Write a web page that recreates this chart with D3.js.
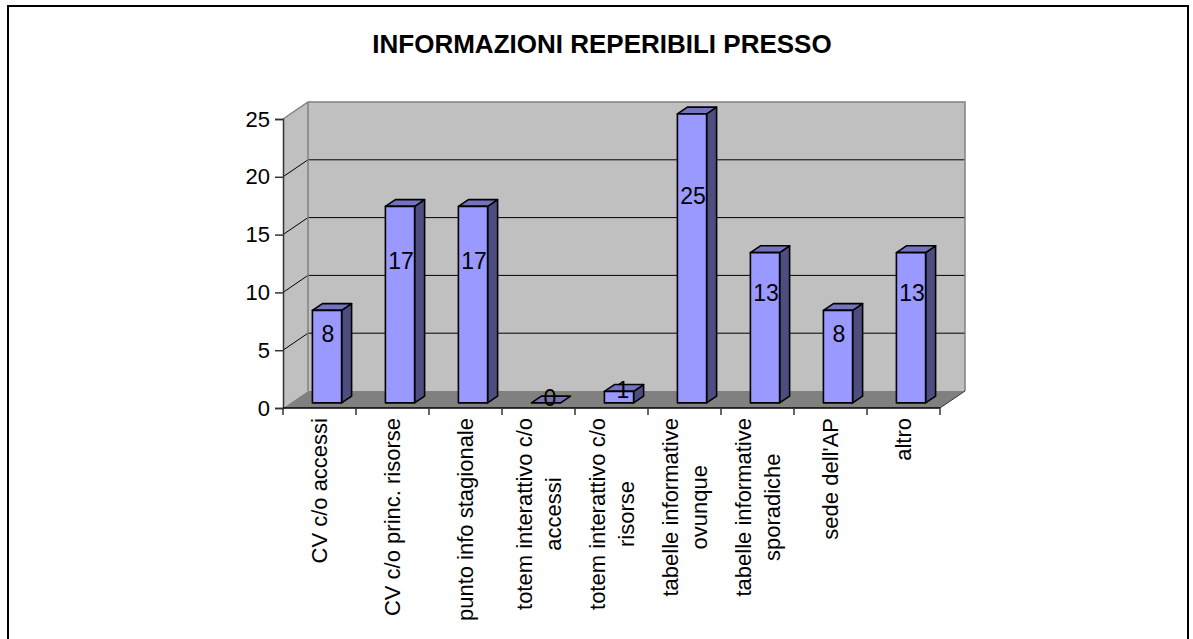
<!DOCTYPE html>
<html>
<head>
<meta charset="utf-8">
<script src="https://cdn.jsdelivr.net/npm/d3@7"></script>
<style>
  html, body { margin: 0; padding: 0; background: #fff; }
  svg { display: block; font-family: "Liberation Sans", Arial, sans-serif; }
</style>
</head>
<body>
<svg id="chart" width="1193" height="639"></svg>
<script>
// ---- data ----
const title = "INFORMAZIONI REPERIBILI PRESSO";
const categories = [
  "CV c/o accessi",
  "CV c/o princ. risorse",
  "punto info stagionale",
  "totem interattivo c/o\naccessi",
  "totem interattivo c/o\nrisorse",
  "tabelle informative\novunque",
  "tabelle informative\nsporadiche",
  "sede dell'AP",
  "altro"
];
const values = [8, 17, 17, 0, 1, 25, 13, 8, 13];
const yTicks = [0, 5, 10, 15, 20, 25];

// ---- layout ----
const svg = d3.select("#chart");
const plotLeft = 283, plotRight = 940, plotBottom = 408, plotTop = 119;
const DX = 25, DY = -17;          // depth offset (front -> back wall)
const f1 = 0.3, f2 = 0.7;         // bar front / back depth fractions

const x = d3.scaleBand().domain(d3.range(categories.length)).range([plotLeft, plotRight]);
const y = d3.scaleLinear().domain([0, 25]).range([plotBottom, plotTop]);

// outer border
svg.append("rect").attr("x", 8).attr("y", 6).attr("width", 1180).attr("height", 660)
  .attr("fill", "none").attr("stroke", "#000").attr("stroke-width", 2);

// title
svg.append("text").attr("x", 602).attr("y", 44)
  .attr("text-anchor", "middle").attr("dominant-baseline", "central")
  .attr("font-size", 26).attr("font-weight", "bold").text(title);

const g = svg.append("g");
const pt = (px, py) => px + "," + py;

// left wall
g.append("polygon")
  .attr("points", [pt(plotLeft, plotBottom), pt(plotLeft, plotTop), pt(plotLeft + DX, plotTop + DY), pt(plotLeft + DX, plotBottom + DY)].join(" "))
  .attr("fill", "#C0C0C0");
// back wall
g.append("rect").attr("x", plotLeft + DX).attr("y", plotTop + DY)
  .attr("width", plotRight - plotLeft).attr("height", plotBottom - plotTop)
  .attr("fill", "#C0C0C0");
// floor
g.append("polygon")
  .attr("points", [pt(plotLeft, plotBottom), pt(plotRight, plotBottom), pt(plotRight + DX, plotBottom + DY), pt(plotLeft + DX, plotBottom + DY)].join(" "))
  .attr("fill", "#808080");

// gridlines
yTicks.filter(t => t > 0 && t < 25).forEach(t => {
  g.append("polyline")
    .attr("points", [pt(plotLeft, y(t)), pt(plotLeft + DX, y(t) + DY), pt(plotRight + DX, y(t) + DY)].join(" "))
    .attr("fill", "none").attr("stroke", "#000").attr("stroke-width", 1);
});
// wall borders (grey)
g.append("polyline")
  .attr("points", [pt(plotLeft, plotTop), pt(plotLeft + DX, plotTop + DY), pt(plotRight + DX, plotTop + DY), pt(plotRight + DX, plotBottom + DY)].join(" "))
  .attr("fill", "none").attr("stroke", "#808080").attr("stroke-width", 1.5);
g.append("line").attr("x1", plotLeft + DX).attr("x2", plotLeft + DX)
  .attr("y1", plotTop + DY).attr("y2", plotBottom + DY)
  .attr("stroke", "#808080").attr("stroke-width", 1.5);

// bars
const bw = x.bandwidth() * 0.4;
const bars = g.append("g");
values.forEach((v, i) => {
  const cx = x(i) + x.bandwidth() / 2;
  const fx0 = cx - bw / 2 + DX * f1, fx1 = cx + bw / 2 + DX * f1;
  const fyT = y(v) + DY * f1, fyB = y(0) + DY * f1;
  const ox = DX * (f2 - f1), oy = DY * (f2 - f1);
  const apply = (sel) => sel.attr("stroke", "#000").attr("stroke-width", 1.6).attr("stroke-linejoin", "round");
  if (v > 0) {
    apply(bars.append("polygon")
      .attr("points", [pt(fx1, fyT), pt(fx1 + ox, fyT + oy), pt(fx1 + ox, fyB + oy), pt(fx1, fyB)].join(" "))
      .attr("fill", "#4D4D80"));
  }
  apply(bars.append("polygon")
    .attr("points", [pt(fx0, fyT), pt(fx1, fyT), pt(fx1 + ox, fyT + oy), pt(fx0 + ox, fyT + oy)].join(" "))
    .attr("fill", "#7373BF"));
  if (v > 0) {
    apply(bars.append("rect").attr("x", fx0).attr("y", fyT).attr("width", bw).attr("height", fyB - fyT)
      .attr("fill", "#9999FF"));
  }
  // value label
  const lv = v * 0.7 + 0.4;
  bars.append("text")
    .attr("x", (fx0 + fx1) / 2 + (v < 2 ? 4 : 1))
    .attr("y", y(lv) + DY * f1)
    .attr("text-anchor", "middle").attr("dominant-baseline", "central")
    .attr("font-size", 23).attr("fill", "#000").text(v);
});

// y axis
const yAxis = d3.axisLeft(y).tickValues(yTicks).tickSize(8).tickPadding(5);
const ya = svg.append("g").attr("transform", `translate(${plotLeft},0)`).call(yAxis);
ya.select(".domain").attr("stroke", "#333").attr("stroke-width", 1.5);
ya.selectAll(".tick line").attr("stroke", "#333").attr("stroke-width", 1.5);
ya.selectAll(".tick text").attr("font-size", 22).attr("font-family", "Liberation Sans, Arial, sans-serif").attr("fill", "#000");

// x axis line & ticks at band boundaries
const xa = svg.append("g");
xa.append("line").attr("x1", plotLeft).attr("x2", plotRight).attr("y1", plotBottom).attr("y2", plotBottom)
  .attr("stroke", "#000").attr("stroke-width", 1.5);
d3.range(categories.length + 1).forEach(i => {
  const tx = i < categories.length ? x(i) : x(categories.length - 1) + x.bandwidth();
  xa.append("line").attr("x1", tx).attr("x2", tx).attr("y1", plotBottom).attr("y2", plotBottom + 7)
    .attr("stroke", "#333").attr("stroke-width", 1.5);
});
// floor right diagonal edge
xa.append("line").attr("x1", plotRight).attr("y1", plotBottom).attr("x2", plotRight + DX).attr("y2", plotBottom + DY)
  .attr("stroke", "#333").attr("stroke-width", 1);

// category labels (rotated, multi-line centred)
const lineH = 29;
categories.forEach((c, i) => {
  const lines = c.split("\n");
  const cx = x(i) + x.bandwidth() / 2;
  const grp = svg.append("g").attr("transform", `translate(${cx},418) rotate(-90)`);
  const texts = lines.map((ln, k) => grp.append("text")
    .attr("x", 0)
    .attr("y", (k - (lines.length - 1) / 2) * lineH)
    .attr("dominant-baseline", "central")
    .attr("font-size", 22).attr("fill", "#000").text(ln));
  const maxW = d3.max(texts, t => t.node().getComputedTextLength());
  texts.forEach(t => t.attr("text-anchor", "middle").attr("x", -maxW / 2));
});
</script>
</body>
</html>
